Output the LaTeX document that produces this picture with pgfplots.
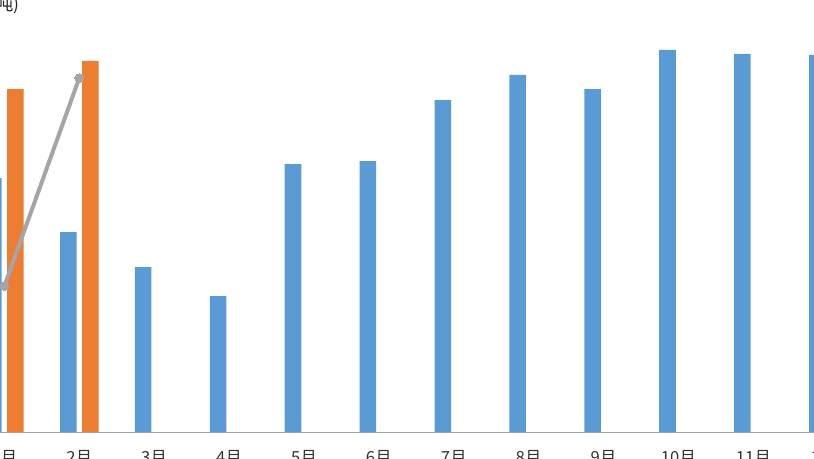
\documentclass[border=0pt]{standalone}
\usepackage{fontspec}
\usepackage{pgfplots}
\pgfplotsset{compat=1.18}
\newfontfamily\cjk{Noto Sans CJK SC}

\definecolor{xlblue}{HTML}{5B9BD5}
\definecolor{xlorange}{HTML}{ED7D31}
\definecolor{xlgray}{HTML}{A5A5A5}
\definecolor{axgray}{HTML}{A6A6A6}

% heights (baseline = 0)
\pgfplotstableread{
m  v
1  254
2  200
3  165
4  136
5  268
6  271
7  332
8  357
9  343
10 382
11 378
12 377
}\blueseries

\pgfplotstableread{
m  v
1  343
2  371
}\orangeseries

\pgfplotstableread{
m  v
1  146
2  354
}\grayline

\begin{document}
\begin{tikzpicture}
\begin{axis}[
    scale only axis,
    width=674.1pt, height=324pt,
    xmin=0.5, xmax=12.5,
    ymin=0, ymax=432,
    axis x line*=bottom,
    axis y line=none,
    x axis line style={draw=axgray, line width=0.75pt},
    xtick={1,...,12},
    xticklabels={1月,2月,3月,4月,5月,6月,7月,8月,9月,10月,11月,12月},
    major tick length=0pt,
    xticklabel style={font=\cjk\fontsize{12.5}{14}\selectfont, color=black!80, yshift=-10pt},
    clip=false,
]
\addplot[ybar, bar width=12.4pt, bar shift=-8.25pt, fill=xlblue, draw=none]
    table[x=m, y=v] {\blueseries};
\addplot[ybar, bar width=12.4pt, bar shift=8.25pt, fill=xlorange, draw=none]
    table[x=m, y=v] {\orangeseries};
\addplot[color=xlgray, line width=3pt, mark=*, mark size=3.3pt,
    mark options={fill=xlgray, draw=xlgray, line width=0pt}]
    table[x=m, y=v] {\grayline};
\end{axis}
\node[anchor=north east, inner sep=0pt, font=\cjk\fontsize{13}{15}\selectfont, text=black!85]
    at (39.5pt, 327pt) {(万吨)};
\pgfresetboundingbox
\path[use as bounding box] (24.79pt,-19.5pt) rectangle ++(610.5pt,343.5pt);
\end{tikzpicture}
\end{document}
